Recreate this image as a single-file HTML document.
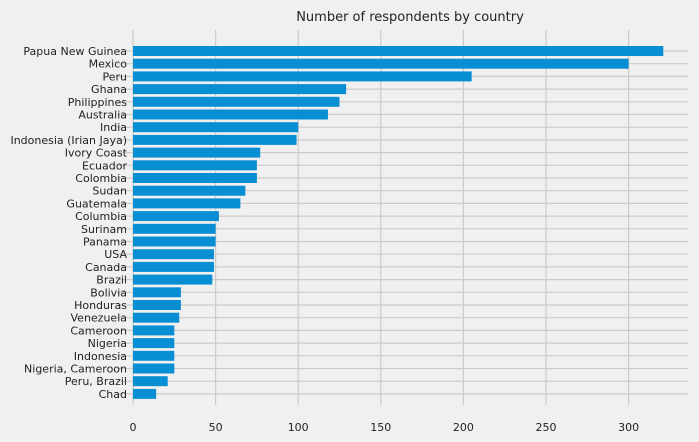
<!DOCTYPE html>
<html><head><meta charset="utf-8"><style>
body{margin:0;background:#f0f0f0;}
svg{display:block;font-family:"DejaVu Sans","Liberation Sans",sans-serif;}
</style></head><body>
<svg id="chart" width="699" height="442">
<rect width="699" height="442" fill="#f0f0f0"/>
<text x="410" y="21" text-anchor="middle" font-size="13" fill="#222">Number of respondents by country</text>
<g id="grid"></g><g id="bars"></g><g id="ylabels"></g><g id="xlabels"></g>
</svg>
<script>
const categories=["Papua New Guinea","Mexico","Peru","Ghana","Philippines","Australia","India","Indonesia (Irian Jaya)","Ivory Coast","Ecuador","Colombia","Sudan","Guatemala","Columbia","Surinam","Panama","USA","Canada","Brazil","Bolivia","Honduras","Venezuela","Cameroon","Nigeria","Indonesia","Nigeria, Cameroon","Peru, Brazil","Chad"];
const values=[321,300,205,129,125,118,100,99,77,75,75,68,65,52,50,50,49,49,48,29,29,28,25,25,25,25,21,14];
const xTicks=[0,50,100,150,200,250,300];
const NS="http://www.w3.org/2000/svg";
const x0=133, xs=1.652, plotRight=688, plotTop=30, plotBottom=405;
const yc0=51, ystep=12.7, bh=10;
function X(v){return x0+v*xs;}
function Y(i){return yc0+i*ystep;}
function mk(tag,attrs,parent){const e=document.createElementNS(NS,tag);for(const k in attrs)e.setAttribute(k,attrs[k]);parent.appendChild(e);return e;}
const g=document.getElementById('grid'),b=document.getElementById('bars'),yl=document.getElementById('ylabels'),xl=document.getElementById('xlabels');
xTicks.forEach(t=>{
  const l=mk('line',{x1:X(t),x2:X(t),y1:plotTop,y2:plotBottom,stroke:'#cbcbcb','stroke-width':1.2},g);
  
  
  const tx=mk('text',{x:X(t),y:431,'text-anchor':'middle','font-size':11,fill:'#222'},xl);
  tx.textContent=t;
  
  
});
categories.forEach((c,i)=>{
  const l=mk('line',{x1:X(0)-16,x2:plotRight,y1:Y(i),y2:Y(i),stroke:'#cbcbcb','stroke-width':1.2},g);
  
  
  const r=mk('rect',{x:X(0),y:Y(i)-bh/2,width:X(values[i])-X(0),height:bh,fill:'#088fd3'},b);
  
  
  const t=mk('text',{x:127,y:Y(i)+4,'text-anchor':'end','font-size':11,fill:'#222'},yl);
  t.textContent=c;
  
  
});
</script>
</body></html>
